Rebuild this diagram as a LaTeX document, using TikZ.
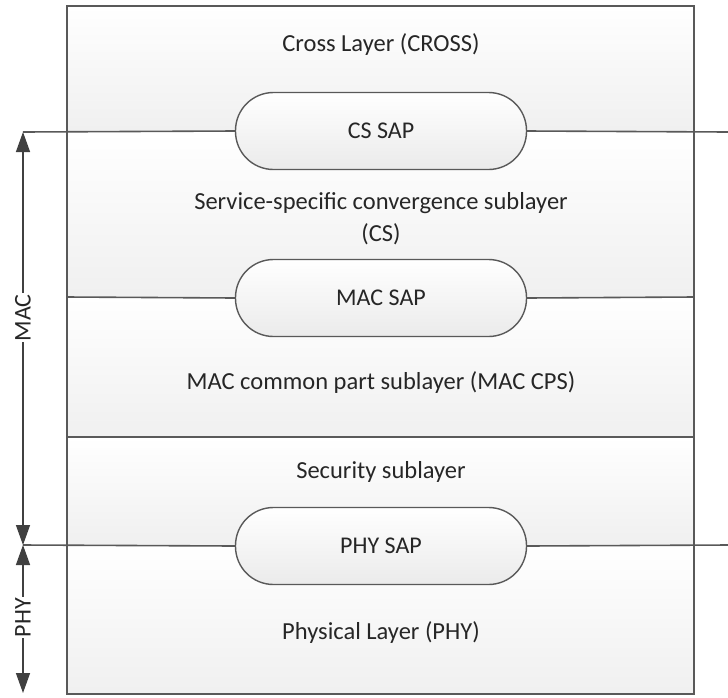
\documentclass[tikz,border=0pt]{standalone}
\usepackage{fontspec}
\setmainfont{Carlito}
\usetikzlibrary{arrows.meta}
\begin{document}
\begin{tikzpicture}[x=1pt,y=-1pt,
  edge/.style={draw=black!65, line width=1.6pt},
  band/.style={top color=white, bottom color=black!6},
  sap/.style={draw=black!65, line width=1.4pt, rounded corners=38pt,
    minimum width=291pt, minimum height=77pt, top color=white, bottom color=black!8,
    font=\fontsize{24}{28}\selectfont, text=black!85},
  lbl/.style={font=\fontsize{24.5}{32}\selectfont, text=black!85, align=center},
  dim/.style={draw=black!75, line width=1.4pt, {Triangle[length=20pt,width=14pt]}-{Triangle[length=20pt,width=14pt]}},
  dimlbl/.style={fill=white, inner sep=1pt, rotate=90, font=\fontsize{24}{28}\selectfont, text=black!85}
]
\useasboundingbox (0,0) rectangle (728,697);

% layer bands
\shade[band] (67,6) rectangle (694,132);
\shade[band] (67,132) rectangle (694,297);
\shade[band] (67,297) rectangle (694,437);
\shade[band] (67,437) rectangle (694,545);
\shade[band] (67,545) rectangle (694,694);

% frame
\draw[edge] (67,6) rectangle (694,694);

% ends of the interface lines
\coordinate (csL) at (23,132);
\coordinate (csR) at (728,132);
\coordinate (macL) at (67,297);
\coordinate (macR) at (694,297);
\coordinate (secL) at (67,437);
\coordinate (secR) at (694,437);
\coordinate (phyL) at (23,545);
\coordinate (phyR) at (728,545);
\coordinate (phyB) at (23,693);

% service access points
\node[sap] (cssap)  at (381,131) {CS SAP};
\node[sap] (macsap) at (381,298) {MAC SAP};
\node[sap] (physap) at (381,546) {PHY SAP};

\draw[edge] (csL) -- (cssap.west);
\draw[edge] (cssap.east) -- (csR);
\draw[edge] (macL) -- (macsap.west);
\draw[edge] (macsap.east) -- (macR);
\draw[edge] (secL) -- (secR);
\draw[edge] (phyL) -- (physap.west);
\draw[edge] (physap.east) -- (phyR);

% layer titles
\node[lbl] (cross) at (381,45) {Cross Layer (CROSS)};
\node[lbl] (cs) at (381,219) {Service-specific convergence sublayer\\(CS)};
\node[lbl] (cps) at (381,383) {MAC common part sublayer (MAC CPS)};
\node[lbl] (sec) at (381,472) {Security sublayer};
\node[lbl] (phy) at (381,633) {Physical Layer (PHY)};

% extent of MAC and PHY
\draw[dim] (csL) -- (phyL) node[pos=0.45, dimlbl] {MAC};
\draw[dim] (phyL) -- (phyB) node[pos=0.49, dimlbl] {PHY};
\end{tikzpicture}
\end{document}
